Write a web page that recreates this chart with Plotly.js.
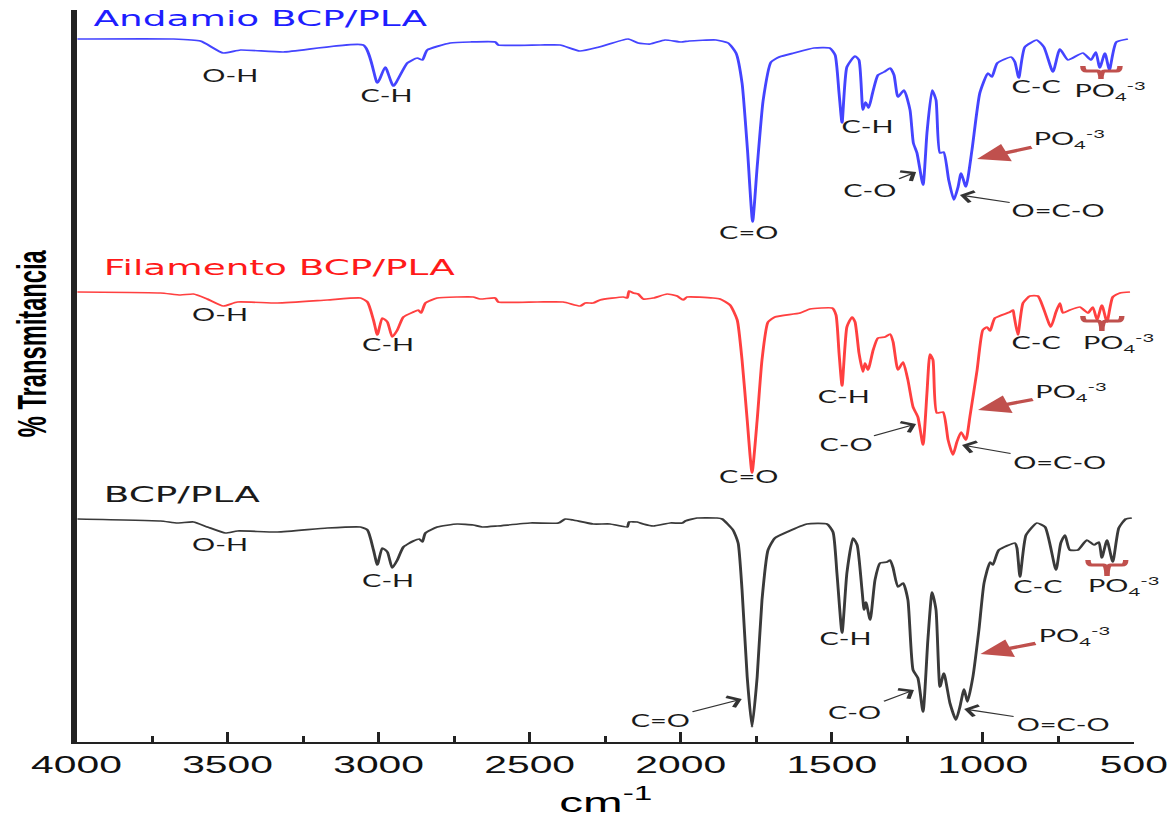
<!DOCTYPE html>
<html>
<head>
<meta charset="utf-8">
<script src="https://cdn.plot.ly/plotly-3.0.1.min.js"></script>
<style>
html,body{margin:0;padding:0;background:#fff;}
#wrap{width:1172px;height:822px;overflow:hidden;position:relative;}
#plot{position:absolute;left:0;top:0;transform-origin:0 0;}
</style>
</head>
<body>
<div id="wrap"><div id="plot"></div></div>
<script>
// ---- data (wavenumber in cm-1, transmittance in arbitrary stacked units) ----
const blueWn = [3997,3679,3590,3514,3457,3315,3051,3004,2978,2951,2905,2872,2855,2839,2763,2697,2614,2604,2465,2399,2334,2270,2174,2141,2101,2052,1999,1972,1883,1843,1817,1797,1779,1762,1747,1727,1701,1674,1625,1559,1507,1489,1476,1466,1450,1423,1410,1397,1388,1378,1365,1347,1327,1307,1294,1281,1261,1241,1230,1218,1198,1185,1168,1155,1142,1130,1113,1096,1082,1072,1056,1036,1010,983,970,952,907,894,881,861,822,798,768,745,718,669,642,626,613,596,581,558,520];
const blueT = [703,703,701,689,692,690,697,659,675,656,679,684,682,692,699,700,700,697,697,697,691,695,703,699,698,702,700,701,702,699,689,659,592,520,575,642,680,685,689,694,694,687,649,619,675,686,682,632,640,634,649,667,670,674,667,645,652,632,599,589,557,609,652,642,589,590,562,542,555,569,555,592,649,669,665,679,685,680,664,695,702,695,670,693,682,689,682,690,674,689,672,700,703];

const redWn = [3997,3722,3656,3613,3567,3514,3467,3335,3170,3060,3037,3017,3004,2988,2971,2955,2938,2918,2885,2869,2859,2845,2806,2740,2687,2664,2614,2604,2475,2389,2333,2316,2290,2267,2190,2177,2171,2157,2141,2124,2091,2045,2012,1992,1979,1893,1870,1837,1813,1797,1780,1764,1747,1731,1711,1688,1605,1572,1499,1486,1476,1466,1450,1433,1423,1410,1397,1390,1380,1363,1347,1324,1307,1297,1281,1264,1248,1231,1215,1198,1185,1175,1165,1152,1132,1115,1099,1086,1072,1056,1043,1019,1000,986,976,960,910,900,897,884,867,844,818,801,775,758,745,735,712,679,652,636,622,606,589,570,546,513];
const redT = [450,449,447,448,443,436,440,439,442,444,440,422,407,424,420,405,412,425,430,432,429,439,444,445,445,443,444,440,440,440,436,439,439,442,445,444,451,449,448,443,444,448,446,442,445,444,443,437,422,382,322,269,322,382,420,425,429,433,434,427,389,356,415,425,420,389,370,379,372,392,404,405,408,400,372,380,362,335,325,297,349,388,382,329,330,302,287,300,310,302,325,372,412,415,411,424,430,432,427,407,439,446,446,435,415,430,439,429,432,435,429,435,422,437,420,445,449,450];

const blackWn = [3997,3722,3666,3613,3567,3507,3467,3335,3170,3060,3037,3017,3004,2988,2971,2955,2938,2918,2885,2865,2855,2845,2806,2740,2687,2657,2607,2498,2405,2382,2356,2290,2234,2177,2171,2144,2124,2091,2035,1995,1985,1946,1880,1863,1827,1810,1797,1780,1764,1747,1731,1711,1688,1648,1582,1516,1496,1483,1466,1450,1430,1416,1400,1393,1387,1373,1357,1340,1317,1307,1297,1281,1264,1248,1231,1215,1198,1182,1168,1155,1142,1129,1109,1089,1076,1062,1051,1033,1013,996,976,967,947,894,887,877,857,821,794,758,742,728,712,685,656,632,616,606,589,570,550,527,507];
const blackT = [223,221,219,220,215,209,211,210,214,215,212,192,177,194,190,174,182,195,201,203,200,209,215,218,217,215,216,219,219,223,222,218,218,215,220,220,218,216,219,219,221,224,224,223,212,199,152,65,15,65,142,192,204,210,218,218,210,169,109,169,204,197,152,132,140,122,162,179,180,182,174,155,159,142,72,64,30,102,150,132,55,69,39,22,35,53,40,65,112,159,180,177,192,199,194,165,207,219,215,172,199,207,192,192,202,197,200,184,202,180,214,223,224];

const seriesNames = ['Andamio BCP/PLA', 'Filamento BCP/PLA', 'BCP/PLA'];
const xTickStep = 500;
const xMinorStep = 250;

// ---- geometry: the original figure is stretched horizontally ----
const S = 1.7;
const W = 1172 / S;
const plotDiv = document.getElementById('plot');
plotDiv.style.width = W + 'px';
plotDiv.style.height = '822px';
plotDiv.style.transform = 'scaleX(' + S + ')';

const lineCol = {blue:'#4444ff', red:'#ff4040', black:'#3a3a3a'};
const txtCol = {blue:'#1e1eff', red:'#ff1a1a', black:'#1a1a1a'};

function trace(x, y, c) {
  return {x: x, y: y, type: 'scatter', mode: 'lines',
          line: {color: c, width: 1.7, shape: 'spline', smoothing: 0.5},
          hoverinfo: 'skip', cliponaxis: false};
}
const data = [
  trace(blueWn, blueT, lineCol.blue),
  trace(redWn, redT, lineCol.red),
  trace(blackWn, blackT, lineCol.black)
];

const labFont = {family: 'Lato, "Open Sans", sans-serif', size: 17, color: '#1a1a1a'};
const PO4 = 'PO<sub>4</sub><sup>-3</sup>';
function lab(t, x, y) {
  return {text: t, x: x, y: y, xref: 'x', yref: 'y', showarrow: false,
          xanchor: 'center', yanchor: 'middle', font: labFont};
}
function arr(t, tx, ty, x, y, red) {
  return {text: t, x: x, y: y, xref: 'x', yref: 'y', ax: tx, ay: ty, axref: 'x', ayref: 'y',
          showarrow: true, arrowhead: red ? 2 : 4, arrowsize: red ? 1.15 : 2.0,
          arrowwidth: red ? 3.2 : 1.1, arrowcolor: red ? '#c0504d' : '#333333',
          standoff: 0, startstandoff: 0, font: labFont};
}
function title(t, x, y, c) {
  return {text: t, x: x, y: y, xref: 'x', yref: 'y', showarrow: false,
          xanchor: 'left', yanchor: 'middle',
          font: {family: '"DejaVu Sans", Verdana, sans-serif', size: 22, color: c}};
}

const ann = [
  title(seriesNames[0], 3954, 724, txtCol.blue),
  title(seriesNames[1], 3921, 475, txtCol.red),
  title(seriesNames[2], 3921, 248, txtCol.black),
  // Andamio
  lab('O-H', 3491, 667), lab('C-H', 2974, 647), lab('C=O', 1777, 510),
  lab('C-H', 1380, 616), lab('C-C', 824, 656), lab(PO4, 580, 651),
  arr('C-O', 1373, 552, 1221, 570), arr('O=C-O', 748, 532, 1076, 547),
  arr(PO4, 712, 603, 1019, 583, true),
  // Filamento
  lab('O-H', 3524, 428), lab('C-H', 2968, 398), lab('C=O', 1777, 266),
  lab('C-H', 1459, 346), lab('C-C', 824, 400), lab(PO4, 553, 399),
  arr('C-O', 1456, 298, 1221, 318), arr('O=C-O', 745, 280, 1069, 297),
  arr(PO4, 708, 350, 1016, 332, true),
  // BCP/PLA
  lab('O-H', 3524, 198), lab('C-H', 2968, 162), lab('C-H', 1453, 104),
  lab('C-C', 818, 156), lab(PO4, 533, 156),
  arr('C=O', 2068, 22, 1798, 43), arr('C-O', 1423, 30, 1228, 52),
  arr('O=C-O', 735, 18, 1062, 33), arr(PO4, 699, 106, 1008, 88, true)
];

// y-axis title sized to its length in the reference
function fitFont(text, target) {
  const c = document.createElement('canvas').getContext('2d');
  const fams = ['Liberation Sans Narrow', 'Arial Narrow'];
  c.font = 'bold 100px monospace';
  const w0 = c.measureText(text).width;
  for (const f of fams) {
    c.font = 'bold 100px "' + f + '", monospace';
    const w = c.measureText(text).width;
    if (Math.abs(w - w0) > 0.5) return {family: '"' + f + '"', size: target / w * 100};
  }
  c.font = 'bold 100px "Liberation Sans", Arial, sans-serif';
  return {family: '"Liberation Sans", Arial, sans-serif', size: target / c.measureText(text).width * 100};
}
const yTitle = '% Transmitancia';
const yf = fitFont(yTitle, 187);
ann.push({text: '<b>' + yTitle + '</b>', xref: 'paper', yref: 'paper', x: -0.0416, y: 0.545,
          showarrow: false, textangle: -90, xanchor: 'center', yanchor: 'middle',
          font: {family: yf.family, size: yf.size, color: '#000'}});
ann.push({text: 'cm<sup>-1</sup>', xref: 'paper', yref: 'paper', x: 0.5, y: -0.079,
          showarrow: false, xanchor: 'center', yanchor: 'middle',
          font: {family: '"Liberation Sans", Arial, sans-serif', size: 28, color: '#000'}});

function brace(x0, x1, xc, yTop, yBar, yTick) {
  const d = 12;
  return {type: 'path', xref: 'x', yref: 'y',
    path: 'M' + x0 + ',' + yTop + ' Q' + x0 + ',' + yBar + ' ' + (x0 - d) + ',' + yBar +
          ' L' + (xc + d) + ',' + yBar + ' Q' + xc + ',' + yBar + ' ' + xc + ',' + yTick +
          ' Q' + xc + ',' + yBar + ' ' + (xc - d) + ',' + yBar +
          ' L' + (x1 + d) + ',' + yBar + ' Q' + x1 + ',' + yBar + ' ' + x1 + ',' + yTop,
    line: {color: '#c0504d', width: 3.2}};
}
const shapes = [
  brace(669, 546, 609, 676, 671, 663),
  brace(669, 540, 606, 426, 421, 411),
  brace(652, 527, 589, 182, 177, 166)
];

const layout = {
  width: W, height: 822,
  margin: {l: 76 / S, r: (1172 - 1134) / S, t: 10, b: 80, pad: 0, autoexpand: false},
  paper_bgcolor: '#fff', plot_bgcolor: '#fff',
  showlegend: false, hovermode: false,
  xaxis: {range: [4000, 500], autorange: false, showline: true, linecolor: '#222', linewidth: 2.2,
          ticks: 'inside', ticklen: 10, tickwidth: 1.8, tickcolor: '#222',
          tick0: 0, dtick: xTickStep, showgrid: false, zeroline: false, automargin: false,
          tickfont: {family: '"Liberation Sans", Arial, sans-serif', size: 24, color: '#111'},
          minor: {tick0: 0, dtick: xMinorStep, ticks: 'inside', ticklen: 6, tickwidth: 1.8, tickcolor: '#222', showgrid: false}},
  yaxis: {range: [0, 732], autorange: false, showline: true, linecolor: '#222', linewidth: 3,
          ticks: '', showticklabels: false, showgrid: false, zeroline: false, automargin: false},
  annotations: ann,
  shapes: shapes
};

Plotly.newPlot(plotDiv, data, layout, {staticPlot: true, displayModeBar: false});
</script>
</body>
</html>
